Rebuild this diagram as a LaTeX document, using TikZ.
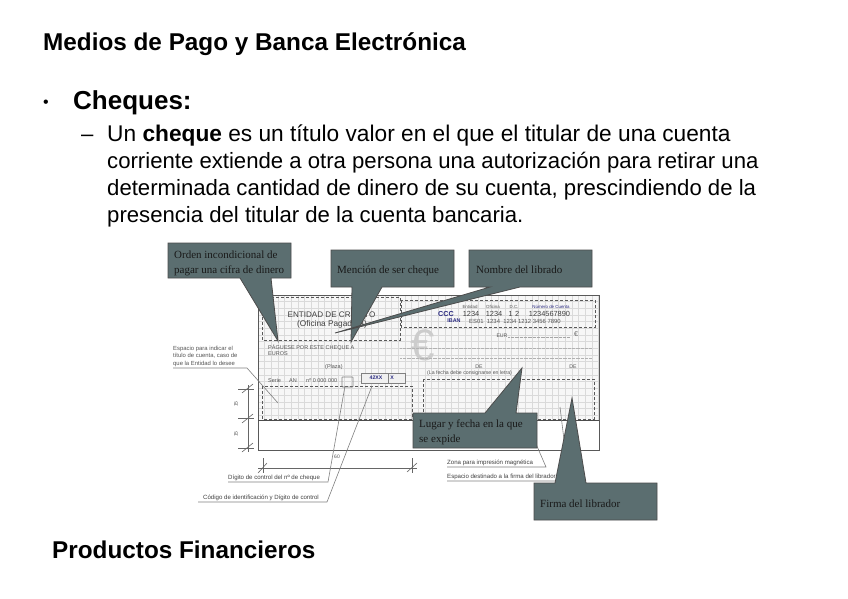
\documentclass[tikz,border=0pt]{standalone}
\usepackage{fontspec}
\setmainfont{Liberation Sans}
\newfontfamily\serifcall{Liberation Serif}
\definecolor{callfill}{HTML}{5B6E70}
\definecolor{gridc}{HTML}{DADADA}
\definecolor{chkblue}{HTML}{2A2A80}
\definecolor{txtgray}{HTML}{555555}
\tikzset{
 callptr/.style={draw=black!70,line width=.8pt,fill=callfill,line join=miter},
 calltext/.style={font=\serifcall\fontsize{11}{14.5}\selectfont,text=black!90,align=left,anchor=base west,inner sep=0pt},
 dashbox/.style={draw=black!65,line width=1pt,dash pattern=on 3pt off 2pt},
 tinyt/.style={font=\fontsize{5.2}{6.2}\selectfont,text=txtgray,inner sep=0pt},
 ctext/.style={font=\fontsize{5.5}{6}\selectfont,text=txtgray,inner sep=0pt,anchor=west},
 leader/.style={draw=black!50,line width=.6pt},
 dimline/.style={draw=black!60,line width=.6pt},
 head/.style={font=\bfseries\fontsize{24.3}{26}\selectfont,anchor=west,inner sep=0pt},
 body/.style={font=\fontsize{22.15}{25}\selectfont,anchor=west,inner sep=0pt},
 lab/.style={font=\fontsize{6.1}{7}\selectfont,text=black!75,inner sep=0pt,anchor=west},
 hdr/.style={font=\fontsize{4.4}{5}\selectfont,text=txtgray,inner sep=0pt},
 num/.style={font=\fontsize{7.4}{8}\selectfont,text=black!75,inner sep=0pt},
}
\begin{document}
\begin{tikzpicture}[x=1pt,y=-1pt]
\useasboundingbox (0,0) rectangle (848,599);
\fill[white] (0,0) rectangle (848,599);
% headings
\node[head] (title) at (43,44) {Medios de Pago y Banca Electrónica};
\node[font=\fontsize{16}{20}\selectfont,anchor=center,inner sep=0pt] (bul) at (46,104) {•};
\node[font=\bfseries\fontsize{26}{28}\selectfont,anchor=west,inner sep=0pt] (chq) at (73,103) {Cheques:};
\node[body] (dash) at (81,138) {–};
\node[body,font=\fontsize{22.7}{25}\selectfont] (l1) at (107,135.5) {Un \textbf{cheque} es un título valor en el que el titular de una cuenta};
\node[body] (l2) at (107,163) {corriente extiende a otra persona una autorización para retirar una};
\node[body] (l3) at (107,190) {determinada cantidad de dinero de su cuenta, prescindiendo de la};
\node[body] (l4) at (107,217) {presencia del titular de la cuenta bancaria.};
\node[head] (prod) at (52,550) {Productos Financieros};
% cheque
\begin{scope}
\clip (258,295) rectangle (599,420);
\fill[black!3] (258,295) rectangle (599,420);
\foreach \i in {0,...,51} \draw[gridc,line width=.7pt] (258+\i*6.68,295) -- (258+\i*6.68,420);
\foreach \i in {0,...,19} \draw[gridc,line width=.7pt] (258,295+\i*6.68) -- (599,295+\i*6.68);
\end{scope}
\draw[black!65,line width=1pt] (258,295) rectangle (599,450);
\draw[black!70,line width=1pt] (258,420) -- (599,420);
\draw[dashbox] (262,297) rectangle (400,340);
\draw[dashbox] (401,300) rectangle (595,327);
\draw[dashbox] (262,386) rectangle (412,419);
\draw[dashbox] (423,379) rectangle (594,419);
% cheque text
\node[font=\fontsize{8.1}{10}\selectfont,text=black!75,inner sep=0pt] (ent) at (331.5,314) {ENTIDAD DE CRÉDITO};
\node[font=\fontsize{8.3}{10}\selectfont,text=black!75,inner sep=0pt] (ofi) at (332,324) {(Oficina Pagadora)};
\node[hdr] (h1) at (470,307) {Entidad};
\node[hdr] (h2) at (493,307) {Oficina};
\node[hdr] (h3) at (514,307) {D.C.};
\node[hdr,text=chkblue] (h4) at (551,307) {Número de Cuenta};
\node[font=\bfseries\fontsize{7.2}{8}\selectfont,text=chkblue,inner sep=0pt] (ccc) at (446,314) {CCC};
\node[num] (n1) at (471,314) {1234};
\node[num] (n2) at (494,314) {1234};
\node[num] (n3) at (514,314) {1\,\,2};
\node[num] (n4) at (549.5,314) {1234567890};
\node[font=\bfseries\fontsize{5.4}{6}\selectfont,text=chkblue,inner sep=0pt] (iban) at (454,321) {IBAN};
\node[font=\fontsize{5.9}{6}\selectfont,text=txtgray,inner sep=0pt,anchor=west] (ibn) at (469,321) {ES01\ \ 1234\ \ 1234 1212 3456 7890};
\node[font=\fontsize{44}{44}\selectfont,text=black!20,inner sep=0pt] (euro) at (423,345) {€};
\node[tinyt] (eur) at (502,336) {EUR};
\draw[black!35,line width=.3pt,densely dotted] (508,337) -- (570,337);
\node[font=\fontsize{7}{8}\selectfont,text=black!60,inner sep=0pt] (eus) at (576,334) {€};
\draw[black!30,line width=.3pt,densely dotted] (400,348) -- (592,348);
\draw[black!30,line width=.3pt,densely dotted] (400,358) -- (592,358);
\node[ctext] (pag) at (268,348) {PÁGUESE POR ESTE CHEQUE A};
\node[ctext] (eu2) at (268,354) {EUROS};
\node[ctext] (pla) at (325,367) {(Plaza)};
\node[tinyt] (de1) at (479,367) {DE};
\node[tinyt] (de2) at (573,367) {DE};
\node[ctext,font=\fontsize{5.2}{6}\selectfont] (fec) at (427,373) {(La fecha debe consignarse en letra)};
\node[ctext] (ser) at (268,381) {Serie};
\node[ctext] (an) at (289,381) {AN};
\node[ctext] (numc) at (306,381) {nº 0 000 000};
\draw[draw=black!50,line width=.6pt,rounded corners=.5pt] (342,377) rectangle (353,387);
\draw[draw=black!50,line width=.6pt,fill=black!6] (361,373) rectangle (405,383);
\draw[draw=black!50,line width=.6pt] (388,373) -- (388,383);
\node[font=\bfseries\fontsize{5.2}{6}\selectfont,text=chkblue,inner sep=0pt] (xx) at (376,378) {42XX};
\node[font=\bfseries\fontsize{5.2}{6}\selectfont,text=chkblue,inner sep=0pt] (xk) at (392,378) {X};
% left note
\node[font=\fontsize{5.9}{7.5}\selectfont,text=txtgray,align=left,inner sep=0pt,anchor=north west] (esp) at (173,346) {Espacio para indicar el\\título de cuenta, caso de\\que la Entidad lo desee};
\coordinate (espa) at (173,368);
\coordinate (espb) at (247,368);
\coordinate (espc) at (278,403);
\draw[leader] (espa) -- (espb) -- (espc);
% dimensions
\draw[dimline] (248,385) -- (248,452);
\draw[dimline] (238,389) -- (254,389) (238,418) -- (254,418) (238,448) -- (254,448);
\draw[dimline] (242,393) -- (253,384) (242,423) -- (253,414) (242,452) -- (253,443);
\node[font=\fontsize{5}{5}\selectfont,text=txtgray,rotate=90,inner sep=0pt] (d15a) at (236,404) {15};
\node[font=\fontsize{5}{5}\selectfont,text=txtgray,rotate=90,inner sep=0pt] (d15b) at (236,434) {15};
\draw[dimline] (258,468) -- (417,468);
\draw[dimline] (263,458) -- (263,473) (412,458) -- (412,473);
\draw[dimline] (258,473) -- (267,463) (407,472) -- (417,463);
\node[font=\fontsize{5}{5}\selectfont,text=txtgray,inner sep=0pt] (d60) at (337,457) {60};
% leaders with labels
\node[lab] (dig) at (228,478) {Dígito de control del nº de cheque};
\coordinate (diga) at (228,482); \coordinate (digb) at (328,482); \coordinate (digc) at (345,386);
\draw[leader] (diga) -- (digb) -- (digc);
\node[lab] (cod) at (203,498) {Código de identificación y Dígito de control};
\coordinate (coda) at (198,502); \coordinate (codb) at (327,502); \coordinate (codc) at (372,386);
\draw[leader] (coda) -- (codb) -- (codc);
\node[lab] (zon) at (447,463) {Zona para impresión magnética};
\coordinate (zona) at (447,467); \coordinate (zonb) at (546,467); \coordinate (zonc) at (530,430);
\draw[leader] (zona) -- (zonb) -- (zonc);
\node[lab] (fir) at (447,477) {Espacio destinado a la firma del librador};
\coordinate (fira) at (447,481); \coordinate (firb) at (569,481); \coordinate (firc) at (560,407);
\draw[leader] (fira) -- (firb) -- (firc);
% callouts
\path (168,243) coordinate (oa) (291,278) coordinate (ob);
\draw[callptr] (oa) -- (ob |- oa) -- (ob) -- (271,278) -- (278,341) -- (240,278) -- (oa |- ob) -- cycle;
\node[calltext] (ot) at (174,273) {Orden incondicional de\\pagar una cifra de dinero};
\path (331,250) coordinate (ma) (454,287) coordinate (mb);
\draw[callptr] (ma) -- (mb |- ma) -- (mb) -- (382,287) -- (351,342) -- (352,287) -- (ma |- mb) -- cycle;
\node[calltext] (mt) at (337,273.5) {Mención de ser cheque};
\path (469,250) coordinate (na) (592,287) coordinate (nb);
\draw[callptr] (na) -- (nb |- na) -- (nb) -- (520,287) -- (335,333) -- (490,287) -- (na |- nb) -- cycle;
\node[calltext] (nt) at (476,273.5) {Nombre del librado};
\path (413,413) coordinate (la) (537,448) coordinate (lb);
\draw[callptr] (la) -- (485,413) -- (522,368) -- (516,413) -- (lb |- la) -- (lb) -- (la |- lb) -- cycle;
\node[calltext] (lt) at (419,442) {Lugar y fecha en la que\\se expide};
\path (534,483) coordinate (fa) (657,520) coordinate (fb);
\draw[callptr] (fa) -- (555,483) -- (572,398) -- (586,483) -- (fb |- fa) -- (fb) -- (fa |- fb) -- cycle;
\node[calltext] (ft) at (540,507.5) {Firma del librador};
\end{tikzpicture}
\end{document}
